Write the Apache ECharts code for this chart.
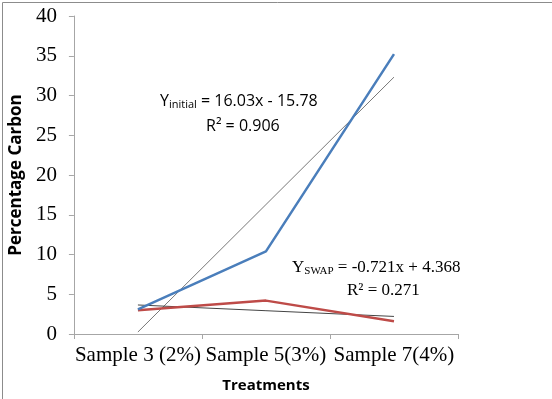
<!DOCTYPE html>
<html>
<head>
<meta charset="utf-8">
<script src="https://cdn.jsdelivr.net/npm/echarts@6/dist/echarts.min.js"></script>
<style>
  html, body { margin: 0; padding: 0; background: #fff; }
  #chart { width: 552px; height: 399px; }
</style>
</head>
<body>
<div id="chart"></div>
<script>
// data
var categories = ['Sample 3 (2%)', 'Sample 5(3%)', 'Sample 7(4%)'];
var initialVals = [3.1, 10.4, 35.2];
var swapVals = [3.0, 4.2, 1.6];
// trend lines as printed on the chart
var initialTrend = [0.25, 16.28, 32.31];
var swapTrend = [3.65, 2.93, 2.21];
var yTicks = { min: 0, max: 40, step: 5 };

var chart = document.getElementById('chart');
var myChart = echarts.init(chart);

var serif = 'Liberation Serif';
var sans = 'Open Sans';

var option = {
  animation: false,
  grid: { left: 68, right: 94, top: 16, bottom: 65 },
  xAxis: {
    type: 'category',
    data: categories,
    boundaryGap: true,
    name: 'Treatments',
    nameLocation: 'middle',
    nameGap: 44,
    nameTextStyle: { fontFamily: sans, fontWeight: 'bold', fontSize: 15, color: '#000' },
    axisLine: { lineStyle: { color: '#a6a6a6', width: 1 } },
    axisTick: { show: true, alignWithLabel: false, length: 5, lineStyle: { color: '#a6a6a6' } },
    axisLabel: { fontFamily: serif, fontSize: 21, color: '#000', margin: 11, interval: 0 }
  },
  yAxis: {
    type: 'value',
    min: yTicks.min,
    max: yTicks.max,
    interval: yTicks.step,
    name: 'Percentage Carbon',
    nameLocation: 'middle',
    nameGap: 44,
    nameTextStyle: { fontFamily: sans, fontWeight: 'bold', fontSize: 17, color: '#000' },
    splitLine: { show: false },
    axisLine: { show: true, lineStyle: { color: '#a6a6a6', width: 1 } },
    axisTick: { show: true, length: 5, lineStyle: { color: '#a6a6a6' } },
    axisLabel: { fontFamily: serif, fontSize: 21, color: '#000', margin: 17 }
  },
  series: [
    {
      name: 'initial trend', type: 'line', data: initialTrend, symbol: 'none',
      lineStyle: { color: '#555', width: 0.8 }, z: 1
    },
    {
      name: 'SWAP trend', type: 'line', data: swapTrend, symbol: 'none',
      lineStyle: { color: '#444', width: 1 }, z: 1
    },
    {
      name: 'initial', type: 'line', data: initialVals, symbol: 'none',
      lineStyle: { color: '#4a7ebb', width: 2.5 }, z: 3
    },
    {
      name: 'SWAP', type: 'line', data: swapVals, symbol: 'none',
      lineStyle: { color: '#be4b48', width: 2.5 }, z: 2
    }
  ],
  graphic: [
    {
      type: 'rect', left: 0, top: 0, silent: true,
      shape: { width: 551, height: 398 },
      style: { fill: 'none', stroke: '#8c8c8c', lineWidth: 1 }
    },
    {
      type: 'text', left: 160, top: 93,
      style: {
        text: '{a|Y}{s|initial}{a| = 16.03x - 15.78}',
        rich: {
          a: { fontFamily: sans, fontSize: 16, fill: '#000' },
          s: { fontFamily: sans, fontSize: 11, fill: '#000', padding: [8, 0, 0, 0] }
        }
      }
    },
    {
      type: 'text', left: 206, top: 118,
      style: { text: 'R² = 0.906', fontFamily: sans, fontSize: 16, fill: '#000' }
    },
    {
      type: 'text', left: 292, top: 259,
      style: {
        text: '{a|Y}{s|SWAP}{a| = -0.721x + 4.368}',
        rich: {
          a: { fontFamily: serif, fontSize: 17, fill: '#000' },
          s: { fontFamily: serif, fontSize: 11, fill: '#000', padding: [8, 0, 0, 0] }
        }
      }
    },
    {
      type: 'text', left: 347, top: 282,
      style: { text: 'R² = 0.271', fontFamily: serif, fontSize: 17, fill: '#000' }
    }
  ]
};

myChart.setOption(option);
</script>
</body>
</html>
